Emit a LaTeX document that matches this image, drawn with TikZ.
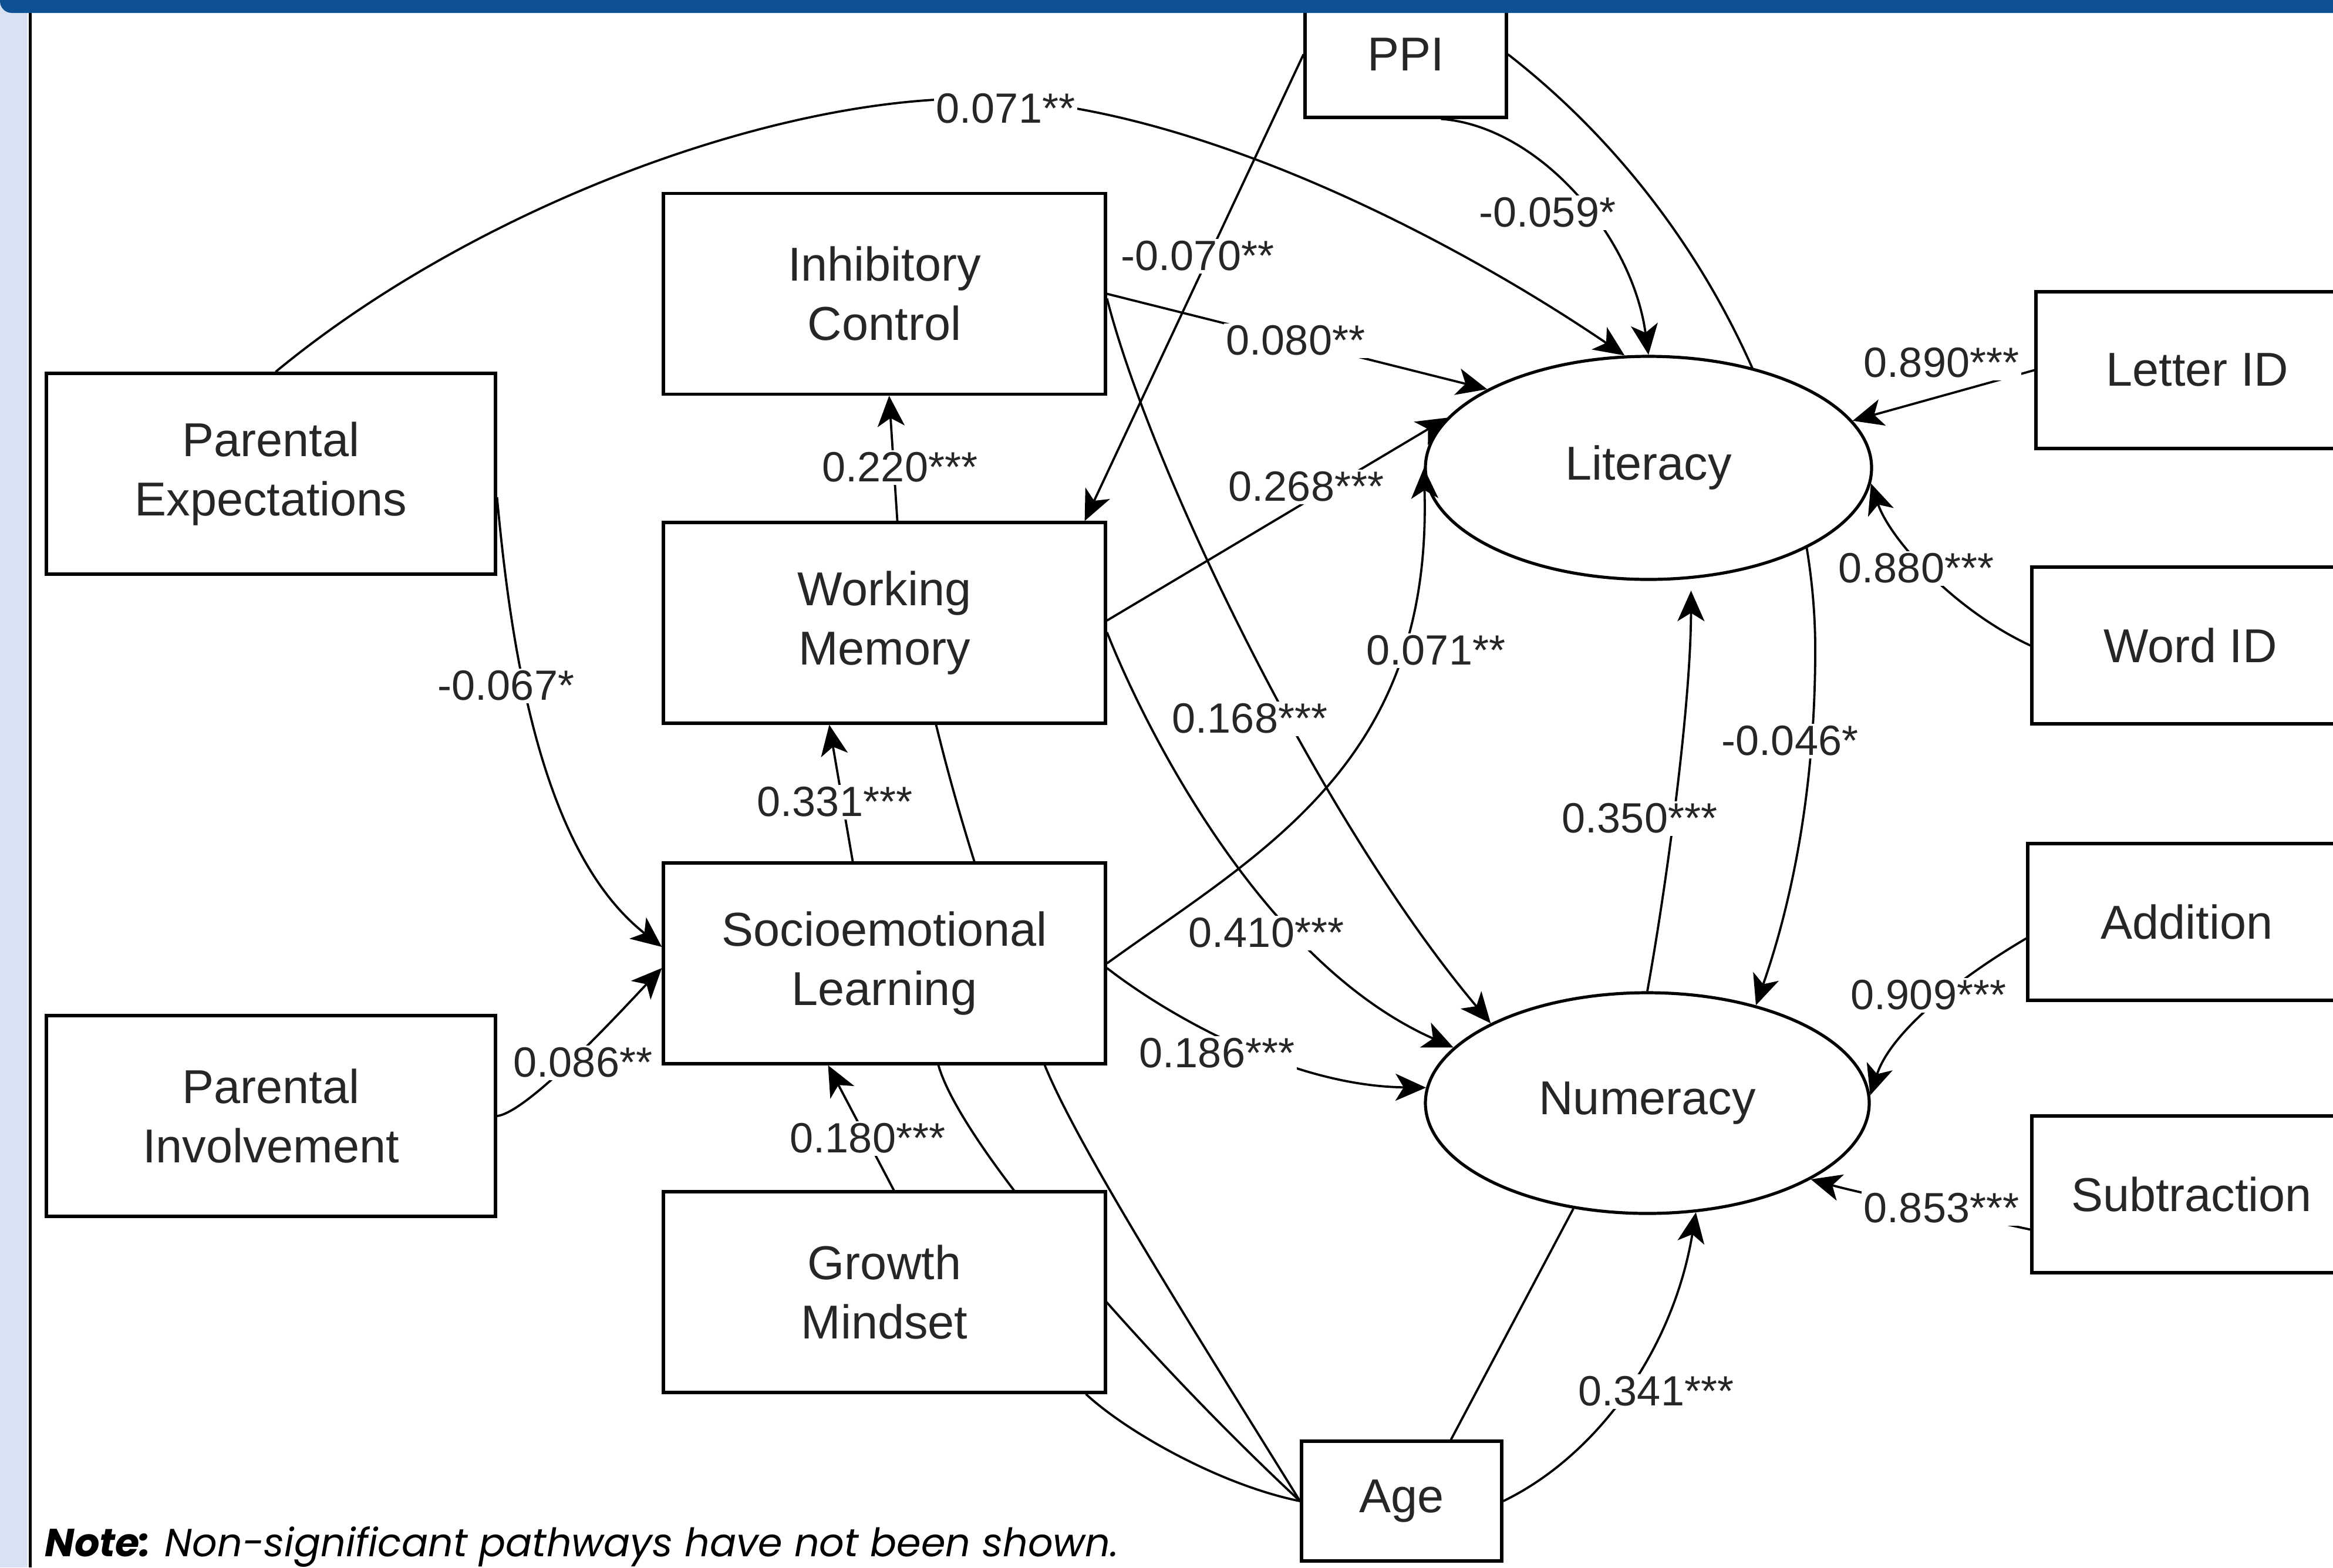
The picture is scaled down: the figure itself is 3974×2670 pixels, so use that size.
\documentclass[tikz,border=0pt]{standalone}
\usepackage{fontspec}
\setmainfont{Liberation Sans}
\newfontfamily\notefont{Poppins}
\usetikzlibrary{shapes.geometric,arrows.meta}
\pgfdeclarelayer{bg}
\pgfdeclarelayer{fg}
\pgfsetlayers{bg,main,fg}
\definecolor{barblue}{HTML}{0E5193}
\definecolor{stripe}{HTML}{D9E2F3}
\definecolor{txt}{HTML}{262626}
\newcommand\bxfont{\fontsize{20.25}{25.25}\selectfont}
\newcommand\lbfont{\fontsize{18}{20}\selectfont}
\begin{document}
\begin{tikzpicture}[x=0.25pt,y=-0.25pt,
  rbox/.style={draw=black,line width=1.3pt,fill=white,inner sep=0pt,align=center,font=\bxfont,text=txt},
  wide/.style={rbox,minimum width=191.25pt,minimum height=85.5pt},
  mid/.style={rbox,minimum width=188.25pt,minimum height=85.5pt},
  ind/.style={rbox,minimum height=66.75pt},
  lat/.style={ellipse,draw=black,line width=1.3pt,fill=white,inner sep=0pt,font=\bxfont,text=txt},
  conn/.style={draw=black,line width=0.95pt},
  arr/.style={conn,-{Stealth[length=13pt,width=11.5pt,inset=3.5pt]}},
  lab/.style={fill=white,inner sep=1pt,font=\lbfont,text=txt}]
\useasboundingbox (0,0) rectangle (3974,2670);

% nodes
\node[wide] (pe) at (461.5,807) {Parental\\Expectations};
\node[wide] (pi) at (461.5,1901) {Parental\\Involvement};
\node[mid] (ic) at (1506.5,500.5) {Inhibitory\\Control};
\node[mid] (wm) at (1506.5,1061) {Working\\Memory};
\node[mid] (sel) at (1506.5,1641) {Socioemotional\\Learning};
\node[mid] (gm) at (1506.5,2201) {Growth\\Mindset};
\node[rbox,minimum width=85.75pt,minimum height=53.75pt] (ppi) at (2394.5,92.5) {PPI};
\node[rbox,minimum width=85.25pt,minimum height=51pt] (age) at (2387.5,2557) {Age};
\node[lat,minimum width=190pt,minimum height=95pt] (lit) at (2808,797) {Literacy};
\node[lat,minimum width=189pt,minimum height=94pt] (num) at (2806,1879) {Numeracy};
\node[ind,minimum width=137.5pt] (letterid) at (3743,630.5) {Letter ID};
\node[ind,minimum width=135pt] (wordid) at (3731,1099.5) {Word ID};
\node[ind,minimum width=135.5pt] (addition) at (3725,1570.5) {Addition};
\node[ind,minimum width=136pt] (subtraction) at (3733,2034.5) {Subtraction};

% connectors passing behind boxes
\begin{pgfonlayer}{bg}
\fill[white] (0,0) rectangle (3974,2670);
\draw[arr] (ppi.east) .. controls (2900,350) and (3090,750) .. (3092,1100)
  .. controls (3093,1400) and (3030,1600) .. (num.42);
\draw[conn] (age.west) .. controls (1970,2330) and (1640,1960) .. ([xshift=23pt]sel.south);
\draw[conn] (age.west) .. controls (2030,2260) and (1840,1960) .. (1781,1818)
  .. controls (1700,1600) and (1640,1420) .. ([xshift=22pt]wm.south);
\end{pgfonlayer}

% connectors
\draw[arr] ([xshift=2pt]pe.north) .. controls (800,360) and (1300,170) .. (1650,168)
  .. controls (2000,166) and (2450,390) .. (lit.102);
\draw[arr] ([xshift=15pt]ppi.south) .. controls (2620,215) and (2780,400) .. (lit.north);
\draw[arr] (ppi.west) -- ([xshift=-9.5pt]wm.north east);
\draw[arr] (ic.east) -- (lit.154);
\draw[arr] ([yshift=-2pt]ic.east) .. controls (1960,800) and (2250,1400) .. (num.153);
\draw[arr] ([xshift=5.5pt]wm.north) -- ([xshift=2pt]ic.south);
\draw[arr] ([yshift=1pt]wm.east) -- (lit.166);
\draw[arr] ([yshift=-4pt]wm.east) .. controls (1950,1240) and (2150,1640) .. (num.164);
\draw[arr] ([xshift=-13.5pt]sel.north) -- ([xshift=-23.5pt]wm.south);
\draw[arr] (sel.east) .. controls (2150,1450) and (2440,1300) .. (lit.west);
\draw[arr] ([yshift=-2pt]sel.east) .. controls (1990,1730) and (2200,1850) .. (num.176);
\draw[arr] ([xshift=4pt]gm.north) -- ([xshift=-24pt]sel.south);
\draw[arr] ([yshift=-10pt]pe.east) .. controls (870,1100) and (920,1450) .. ([yshift=7pt]sel.west);
\draw[arr] (pi.east) .. controls (900,1895) and (1060,1720) .. ([yshift=-2pt]sel.west);
\draw[arr,shorten >=5pt] (num.north) .. controls (2840,1500) and (2880,1200) .. (lit.291);
\draw[arr] (age.east) .. controls (2720,2480) and (2850,2300) .. (num.294);
\draw[conn] ([xshift=21pt]age.north) -- (num.235);
\draw[conn] (age.west) .. controls (2080,2530) and (1920,2440) .. ([xshift=-9pt]gm.south east);
\draw[arr] (letterid.west) -- (lit.13);
\draw[arr] (wordid.west) .. controls (3330,1040) and (3220,920) .. (lit.356);
\draw[arr] ([yshift=-7pt]addition.west) .. controls (3330,1670) and (3220,1760) .. (num.2);
\draw[arr] ([yshift=-15pt]subtraction.west) .. controls (3300,2060) and (3160,2030) .. (num.335);

% labels
\node[lab] (l01) at (1713,185) {0.071**};
\node[lab] (l02) at (2040,436) {-0.070**};
\node[lab] (l03) at (2636,362) {-0.059*};
\node[lab] (l04) at (2207,580) {0.080**};
\node[lab] (l05) at (3307,618) {0.890***};
\node[lab] (l06) at (1533,796) {0.220***};
\node[lab] (l07) at (2225,829) {0.268***};
\node[lab] (l08) at (3264,968) {0.880***};
\node[lab] (l09) at (862,1168) {-0.067*};
\node[lab] (l10) at (2446,1108) {0.071**};
\node[lab] (l11) at (2129,1224) {0.168***};
\node[lab] (l12) at (3049,1262) {-0.046*};
\node[lab] (l13) at (1422,1366) {0.331***};
\node[lab] (l14) at (2793,1394) {0.350***};
\node[lab] (l15) at (2157,1589) {0.410***};
\node[lab] (l16) at (3285,1695) {0.909***};
\node[lab] (l17) at (993,1810) {0.086**};
\node[lab] (l18) at (2073,1794) {0.186***};
\node[lab] (l19) at (1478,1939) {0.180***};
\node[lab] (l20) at (3307,2058) {0.853***};
\node[lab] (l21) at (2821,2370) {0.341***};

\node[anchor=base west,inner sep=0pt,font=\notefont\fontsize{16.7}{20}\selectfont,text=black] (note) at (76,2651)
  {\textbf{\textit{Note:}} \textit{Non-significant pathways have not been shown.}};

% frame
\begin{pgfonlayer}{fg}
\fill[stripe] (0,0) rectangle (47,2670);
\fill[black] (49,22) rectangle (54,2670);
\fill[barblue,rounded corners=5pt] (0,-40) rectangle (4100,22);
\end{pgfonlayer}
\end{tikzpicture}
\end{document}
